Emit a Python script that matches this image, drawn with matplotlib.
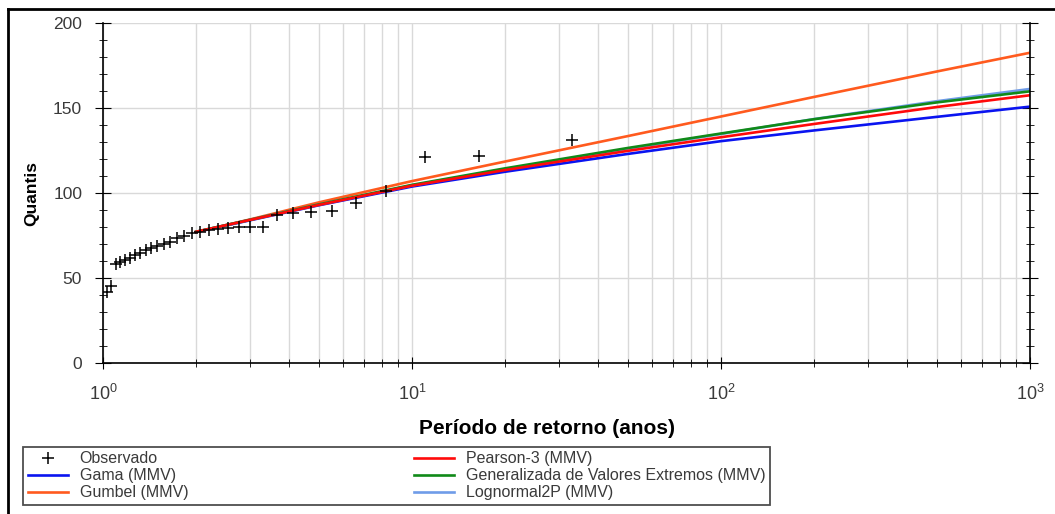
import numpy as np
import matplotlib
matplotlib.use("Agg")
import matplotlib.pyplot as plt
from matplotlib.ticker import MultipleLocator, LogLocator, NullFormatter
from matplotlib.lines import Line2D

plt.rcParams['font.family'] = ['Liberation Sans', 'DejaVu Sans']
plt.rcParams['mathtext.fontset'] = 'custom'
plt.rcParams['mathtext.rm'] = 'Liberation Sans'
plt.rcParams['mathtext.it'] = 'Liberation Sans:italic'
plt.rcParams['mathtext.bf'] = 'Liberation Sans:bold'

# observed (return period, quantile)
obs_T = [1.031, 1.065, 1.1, 1.138, 1.179, 1.222, 1.269, 1.32, 1.375, 1.435,
         1.5, 1.571, 1.65, 1.737, 1.833, 1.941, 2.0625, 2.2, 2.357, 2.538,
         2.75, 3.0, 3.3, 3.667, 4.125, 4.714, 5.5, 6.6, 8.25, 11.0, 16.5, 33.0]
obs_Q = [42, 45.5, 58.5, 59.5, 60.5, 62, 63.5, 65, 66.5, 67.5,
         69, 70, 71, 73.5, 75, 76.5, 77.2, 78, 78.6, 79.2,
         80, 80.2, 80.2, 87, 88, 88.6, 89.6, 94, 101, 121, 122, 131]

# fitted distributions
fit_T = [2, 3, 5, 10, 20, 50, 100, 200, 500, 1000]
gama = [77.0, 84.0, 92.8, 103.8, 112.5, 123.0, 130.5, 136.8, 144.8, 150.8]
gumbel = [77.0, 84.5, 94.5, 107.0, 118.5, 133.5, 145.0, 156.5, 171.5, 182.5]
pearson = [77.2, 84.2, 93.0, 104.3, 113.5, 124.8, 132.8, 140.6, 150.6, 157.5]
gev = [77.2, 84.3, 93.3, 104.8, 114.5, 126.5, 135.0, 143.4, 153.3, 159.8]
lognormal = [77.2, 84.3, 93.2, 104.5, 114.0, 126.0, 134.7, 143.5, 154.0, 161.2]

fig = plt.figure(figsize=(10.55, 5.14), dpi=100)
ax = fig.add_axes([103/1055, 1-363/514, 927/1055, 340/514])

ax.plot(fit_T, gama, color='#0a14f0', lw=1.9, label='Gama (MMV)')
ax.plot(fit_T, gumbel, color='#ff5a1e', lw=1.9, label='Gumbel (MMV)')
ax.plot(fit_T, lognormal, color='#6f9ce8', lw=1.9, label='Lognormal2P (MMV)')
ax.plot(fit_T, gev, color='#108a18', lw=1.9, label='Generalizada de Valores Extremos (MMV)')
ax.plot(fit_T, pearson, color='#ff0a0a', lw=1.9, label='Pearson-3 (MMV)')
ax.plot(obs_T, obs_Q, '+', color='black', ms=9, mew=1.1, label='Observado')

ax.set_xscale('log')
ax.set_xlim(1, 1000)
ax.set_ylim(0, 200)
ax.xaxis.set_major_locator(LogLocator(base=10))
ax.xaxis.set_minor_locator(LogLocator(base=10, subs=np.arange(2, 10)))
ax.xaxis.set_minor_formatter(NullFormatter())
ax.yaxis.set_major_locator(MultipleLocator(50))
ax.yaxis.set_minor_locator(MultipleLocator(10))

ax.grid(True, which='both', axis='x', color='#d9d9d9', lw=1)
ax.grid(True, which='major', axis='y', color='#d9d9d9', lw=1)
ax.set_axisbelow(True)

ax.spines['top'].set_visible(False)
for s in ['left', 'right', 'bottom']:
    ax.spines[s].set_linewidth(1.2)
ax.tick_params(axis='y', which='both', right=True, direction='inout',
               labelsize=12.5, labelcolor='#3a3a3a')
ax.tick_params(axis='y', which='major', length=12, pad=9)
ax.tick_params(axis='y', which='minor', length=6)
ax.tick_params(axis='x', which='both', direction='inout',
               labelsize=13, labelcolor='#3a3a3a')
ax.tick_params(axis='x', which='major', length=8, pad=11)
ax.tick_params(axis='x', which='minor', length=6)

ax.set_xlabel('Período de retorno (anos)', fontsize=15, fontweight='bold')
ax.xaxis.set_label_coords(0.479, -0.165)
ax.set_ylabel('Quantis', fontsize=12.5, fontweight='bold', labelpad=10)

handles, labels = ax.get_legend_handles_labels()
order = ['Observado', 'Gama (MMV)', 'Gumbel (MMV)', 'Pearson-3 (MMV)',
         'Generalizada de Valores Extremos (MMV)', 'Lognormal2P (MMV)']
hmap = dict(zip(labels, handles))
leg = fig.legend([hmap[k] for k in order], order, ncol=2, loc='lower left',
                 bbox_to_anchor=(23/1055, 9/514, 747/1055, 58/514), mode='expand',
                 fontsize=11.5, frameon=True, fancybox=False, edgecolor='#222222',
                 handlelength=2.5, handletextpad=0.75, borderpad=0.3,
                 labelspacing=0.12, borderaxespad=0)
leg.get_frame().set_linewidth(1.3)
for t in leg.get_texts():
    t.set_color('#3a3a3a')

# outer frame
fig.add_artist(Line2D([8/1055, 8/1055], [0, 1-9/514], color='black', lw=2, transform=fig.transFigure))
fig.add_artist(Line2D([8/1055, 1], [1-9/514, 1-9/514], color='black', lw=2, transform=fig.transFigure))

fig.savefig('out.png', dpi=100)
